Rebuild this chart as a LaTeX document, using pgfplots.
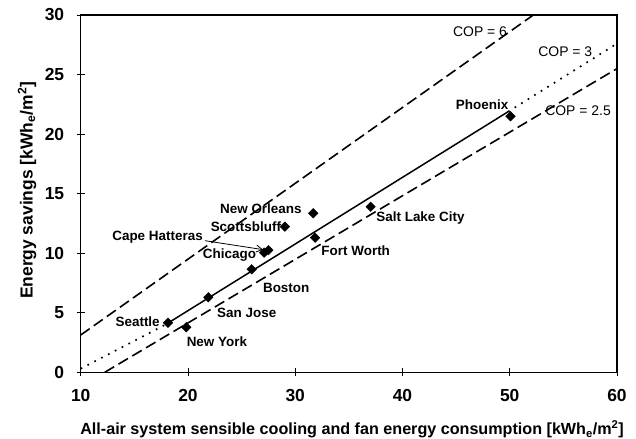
\documentclass[border=0pt]{standalone}
\usepackage{fontspec}
\setmainfont{Liberation Sans}
\usepackage{pgfplots}
\pgfplotsset{compat=1.18}
\usetikzlibrary{arrows.meta}

\begin{document}
\begin{tikzpicture}[
  city/.style={font=\fontsize{13.5}{14}\selectfont\bfseries},
  cop/.style={font=\fontsize{14}{14}\selectfont}]
\useasboundingbox (-80.7bp,-66.7bp) rectangle (555.3bp,372.3bp);
\begin{axis}[
  scale only axis, width=536.3bp, height=357.3bp,
  xmin=10, xmax=60, ymin=0, ymax=30,
  xtick={10,20,...,60}, ytick={0,5,...,30},
  xtick pos=bottom, ytick pos=left,
  tick align=center, major tick length=8bp,
  axis line style={line width=1.2bp},
  tick style={line width=0.8bp, black},
  /pgf/number format/assume math mode=true,
  tick label style={font=\fontsize{17.5}{18}\selectfont\bfseries},
  xticklabel style={yshift=-10bp},
  yticklabel style={xshift=-9bp},
  xlabel={All-air system sensible cooling and fan energy consumption [kWh\textsubscript{e}/m\textsuperscript{2}]},
  ylabel={Energy savings [kWh\textsubscript{e}/m\textsuperscript{2}]},
  xlabel style={font=\fontsize{16.2}{17}\selectfont\bfseries, at={(axis description cs:0.506,-0.159)}, anchor=center},
  ylabel style={font=\fontsize{17.5}{18}\selectfont\bfseries, at={(axis description cs:-0.1,0.509)}, anchor=center},
]
% COP = 6
\addplot[black, line width=1.6bp, dash pattern=on 11bp off 5bp] coordinates {(10,3.13) (52.2,30)};
% COP = 3 (dotted outside the data range, solid through it)
\addplot[black, line width=1.7bp, dash pattern=on 1.7bp off 6bp] coordinates {(10,0.3) (17.9,4.0)};
\addplot[black, line width=1.7bp, dash pattern=on 1.7bp off 6bp] coordinates {(49.85,21.88) (60,27.6)};
% COP = 2.5
\addplot[black, line width=1.6bp, dash pattern=on 11bp off 5bp] coordinates {(12.24,0) (60,25.5)};
% fit (solid)
\addplot[black, line width=1.5bp] coordinates {(17.9,4.0) (49.85,21.88)};
% cities
\addplot[only marks, mark=square*, mark size=3.4bp, mark options={rotate=45, fill=black, draw=black}] coordinates {
(18.14,4.16) (19.84,3.78) (21.9,6.3) (25.94,8.65) (27.1,10.05) (27.5,10.25)
(29.04,12.23) (31.68,13.35) (31.85,11.3) (37.03,13.9) (50.07,21.5)};

\node[cop] at (axis cs:47.23,28.6) {COP = 6};
\node[cop] at (axis cs:55.18,26.92) {COP = 3};
\node[cop] at (axis cs:56.37,21.94) {COP = 2.5};
\node[city] at (axis cs:47.42,22.44) {Phoenix};
\node[city] at (axis cs:41.68,12.96) {Salt Lake City};
\node[city] at (axis cs:35.64,10.2) {Fort Worth};
\node[city] at (axis cs:26.8,13.77) {New Orleans};
\node[city] at (axis cs:25.4,12.23) {Scottsbluff};
\node[city, anchor=east, inner sep=0pt] at (axis cs:21.4,11.36) {Cape Hatteras};
\node[city] at (axis cs:23.87,9.82) {Chicago};
\node[city] at (axis cs:29.16,7.1) {Boston};
\node[city] at (axis cs:25.48,5.02) {San Jose};
\node[city] at (axis cs:15.31,4.28) {Seattle};
\node[city] at (axis cs:22.7,2.57) {New York};
\draw[-{Straight Barb[length=6bp,width=7bp]}, line width=0.8bp] (axis cs:21.58,11.05) -- (axis cs:27.0,10.3);
\end{axis}
\end{tikzpicture}
\end{document}
